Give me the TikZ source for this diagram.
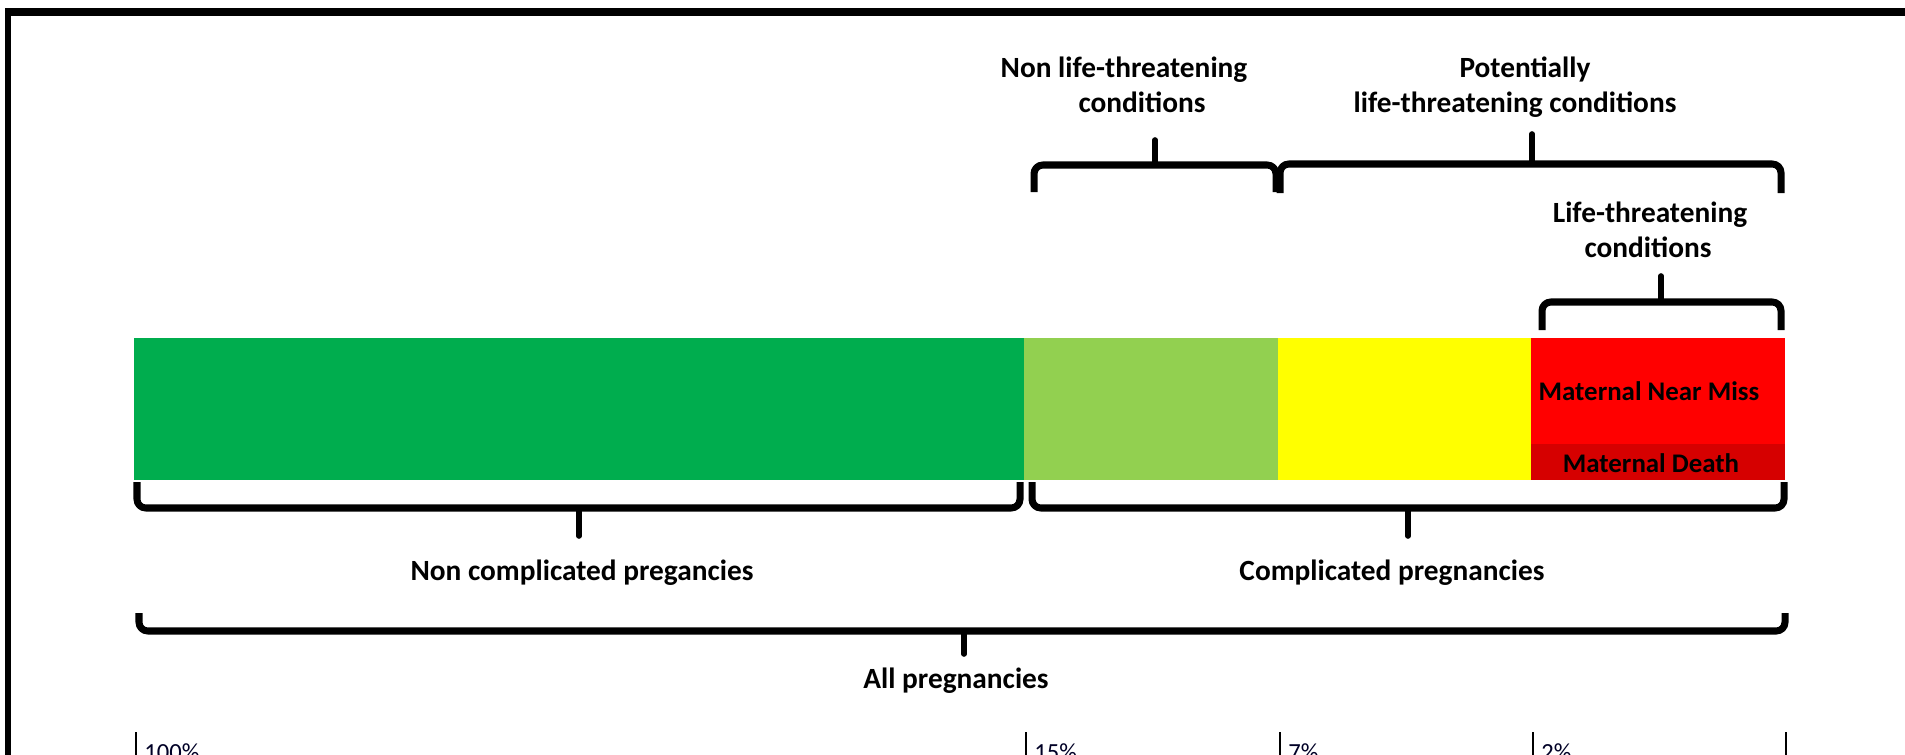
\documentclass[tikz,border=0pt]{standalone}
\usepackage{fontspec}
\setmainfont{Carlito}
\definecolor{cgreen}{HTML}{00AD4E}
\definecolor{lgreen}{HTML}{92D050}
\definecolor{cyellow}{HTML}{FFFF00}
\definecolor{cred}{HTML}{FF0000}
\definecolor{dred}{HTML}{D60000}
\begin{document}
\begin{tikzpicture}[x=0.02cm,y=-0.02cm,
  lbl/.style={font=\fontsize{16.7}{20}\selectfont\bfseries, inner sep=0pt, anchor=base},
  mlbl/.style={font=\fontsize{15.3}{18}\selectfont\bfseries, inner sep=0pt, anchor=base},
  pct/.style={font=\fontsize{14}{17}\selectfont, inner sep=0pt, anchor=base west, text=black!85!blue},
  bracebar/.style={line width=4pt, rounded corners=5pt, line join=round},
  bracetip/.style={line width=3.2pt, line cap=round},
  tickline/.style={line width=1.1pt},
  frame/.style={line width=4.4pt}]
\clip (0,0) rectangle (1905,754);
\fill[white] (0,0) rectangle (1905,754);
% frame (top and left edges)
\draw[frame] (5,12) -- (1910,12);
\draw[frame, line width=3.4pt] (8,10) -- (8,760);
% bar segments
\fill[cgreen]  (134,338) rectangle (1024,480);
\fill[lgreen]  (1024,338) rectangle (1278,480);
\fill[cyellow] (1278,338) rectangle (1531,480);
\fill[cred]    (1531,338) rectangle (1785,444);
\fill[dred]    (1531,444) rectangle (1785,480);
\node[mlbl] (nearmiss) at (1649,400) {Maternal Near Miss};
\node[mlbl] (death) at (1651,472) {Maternal Death};
% top braces
\draw[bracebar] (1034,192) -- (1034,165) -- (1276,165) -- (1276,192);
\draw[bracetip] (1155,165) -- (1155,140);
\draw[bracebar] (1280,193) -- (1280,164) -- (1781,164) -- (1781,193);
\draw[bracetip] (1532,164) -- (1532,134);
\draw[bracebar] (1542,330) -- (1542,302) -- (1781,302) -- (1781,330);
\draw[bracetip] (1661,302) -- (1661,276);
% bottom braces
\draw[bracebar] (137,482) -- (137,508) -- (1020,508) -- (1020,482);
\draw[bracetip] (579,508) -- (579,536);
\draw[bracebar] (1032,482) -- (1032,508) -- (1784,508) -- (1784,482);
\draw[bracetip] (1408,508) -- (1408,536);
\draw[bracebar] (139,613) -- (139,631) -- (1785,631) -- (1785,613);
\draw[bracetip] (964,631) -- (964,654);
% top labels
\node[lbl] (nlt1) at (1124,77) {Non life-threatening};
\node[lbl] (nlt2) at (1142,112) {conditions};
\node[lbl] (plt1) at (1525,77) {Potentially};
\node[lbl] (plt2) at (1515,112) {life-threatening conditions};
\node[lbl] (lt1) at (1650,222) {Life-threatening};
\node[lbl] (lt2) at (1648,257) {conditions};
% bottom labels
\node[lbl] (noncomp) at (582,580) {Non complicated pregancies};
\node[lbl] (comp) at (1392,580) {Complicated pregnancies};
\node[lbl] (all) at (956,688) {All pregnancies};
% scale ticks
\draw[tickline] (136,732) -- (136,760);
\draw[tickline] (1026,732) -- (1026,760);
\draw[tickline] (1280,732) -- (1280,760);
\draw[tickline] (1533,732) -- (1533,760);
\draw[tickline] (1786,732) -- (1786,760);
\node[pct] (p100) at (144,760) {100\%};
\node[pct] (p15) at (1034,760) {15\%};
\node[pct] (p7) at (1288,760) {7\%};
\node[pct] (p2) at (1541,760) {2\%};
\end{tikzpicture}
\end{document}
